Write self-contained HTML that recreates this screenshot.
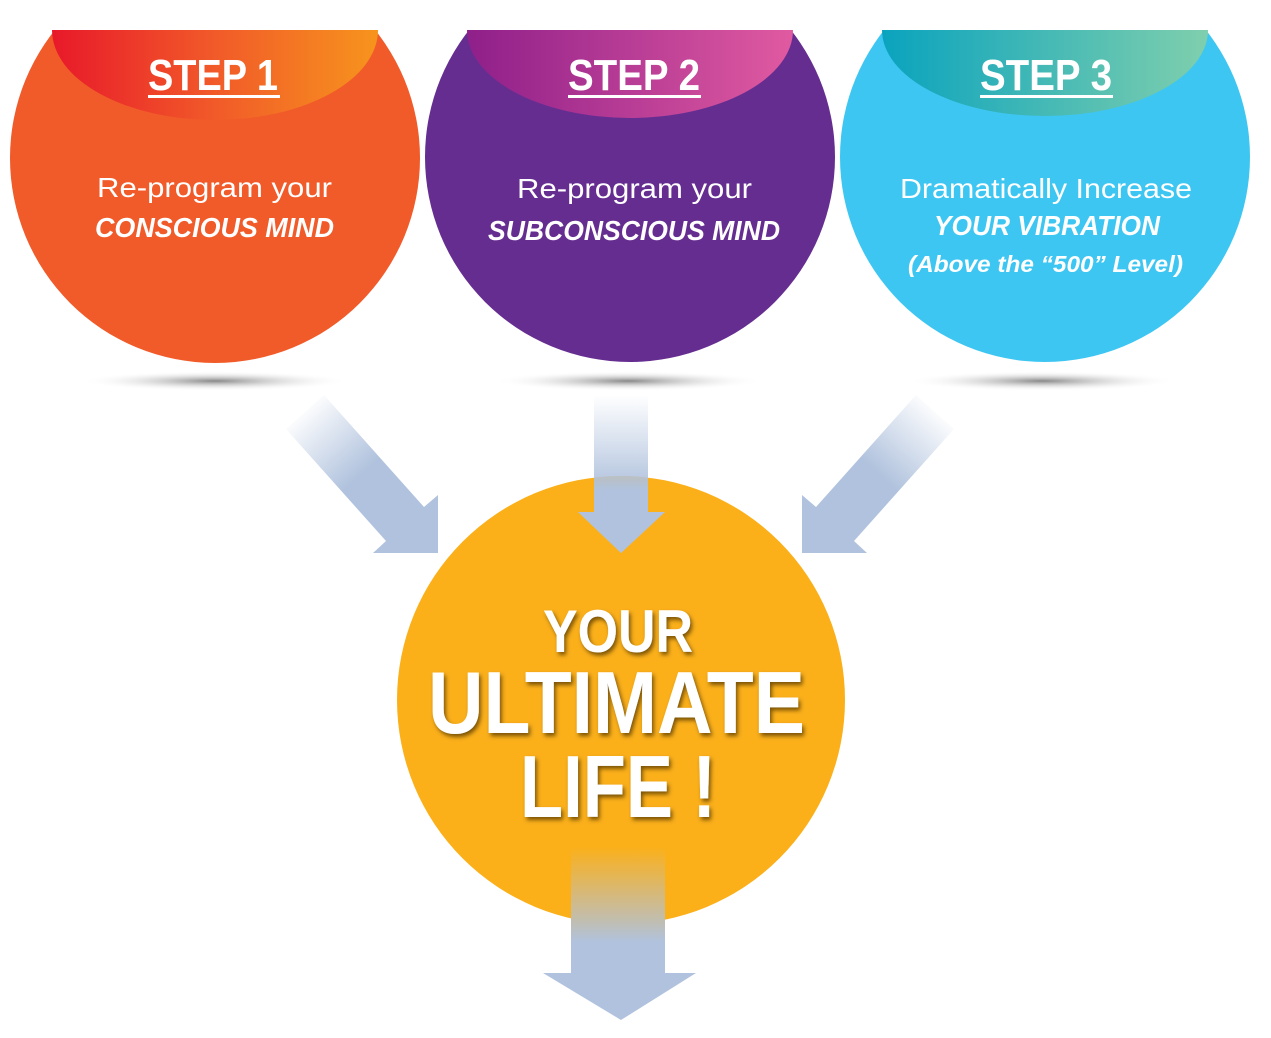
<!DOCTYPE html>
<html><head><meta charset="utf-8"><style>html,body{margin:0;padding:0;background:#fff}svg{display:block}</style></head>
<body>
<svg width="1271" height="1038" viewBox="0 0 1271 1038" xmlns="http://www.w3.org/2000/svg" font-family="Liberation Sans, sans-serif">
<defs>
<clipPath id="top"><rect x="0" y="30" width="1271" height="1000"/></clipPath>
<linearGradient id="r1" x1="0" x2="1"><stop offset="0" stop-color="#e8192a"/><stop offset="0.5" stop-color="#f15a29"/><stop offset="1" stop-color="#f7941d"/></linearGradient>
<linearGradient id="r2" x1="0" x2="1"><stop offset="0" stop-color="#8f1f8a"/><stop offset="1" stop-color="#e05aa0"/></linearGradient>
<linearGradient id="r3" x1="0" x2="1"><stop offset="0" stop-color="#0aa3be"/><stop offset="1" stop-color="#7fcfad"/></linearGradient>
<radialGradient id="sh"><stop offset="0" stop-color="#888"/><stop offset="1" stop-color="#fff" stop-opacity="0"/></radialGradient>
<linearGradient id="av" x1="0" y1="0" x2="0" y2="1"><stop offset="0" stop-color="#b0c2dd" stop-opacity="0"/><stop offset="0.6" stop-color="#b0c2dd"/><stop offset="1" stop-color="#b0c2dd"/></linearGradient>
<linearGradient id="ab" x1="0" y1="0" x2="0" y2="1"><stop offset="0" stop-color="#fbb01a"/><stop offset="0.55" stop-color="#b0c2dd"/><stop offset="1" stop-color="#b0c2dd"/></linearGradient>
<linearGradient id="al" gradientUnits="userSpaceOnUse" x1="300" y1="410" x2="400" y2="520"><stop offset="0" stop-color="#b0c2dd" stop-opacity="0"/><stop offset="0.6" stop-color="#b0c2dd"/><stop offset="1" stop-color="#b0c2dd"/></linearGradient>
<linearGradient id="ar" gradientUnits="userSpaceOnUse" x1="940" y1="410" x2="840" y2="520"><stop offset="0" stop-color="#b0c2dd" stop-opacity="0"/><stop offset="0.6" stop-color="#b0c2dd"/><stop offset="1" stop-color="#b0c2dd"/></linearGradient>
<filter id="ts"><feDropShadow dx="2" dy="3" stdDeviation="2" flood-color="#5a3a00" flood-opacity="0.8"/></filter>
</defs>

<ellipse cx="215" cy="381" rx="135" ry="10" fill="url(#sh)"/>
<ellipse cx="628" cy="381" rx="135" ry="10" fill="url(#sh)"/>
<ellipse cx="1042" cy="381" rx="135" ry="10" fill="url(#sh)"/>

<g clip-path="url(#top)">
<circle cx="215" cy="158" r="205" fill="#f15a29"/>
<circle cx="630" cy="157" r="205" fill="#662d91"/>
<circle cx="1045" cy="157" r="205" fill="#3ec6f2"/>
</g>
<path d="M52 30 L378 30 A163 90 0 0 1 52 30 Z" fill="url(#r1)"/>
<path d="M467 30 L793 30 A163 88 0 0 1 467 30 Z" fill="url(#r2)"/>
<path d="M882 30 L1208 30 A163 86 0 0 1 882 30 Z" fill="url(#r3)"/>

<g fill="#fff" font-weight="bold">
<text x="148" y="90" font-size="44" textLength="130" lengthAdjust="spacingAndGlyphs">STEP 1</text>
<rect x="148" y="95" width="132" height="3"/>
<text x="568" y="90" font-size="44" textLength="132" lengthAdjust="spacingAndGlyphs">STEP 2</text>
<rect x="568" y="95" width="133" height="3"/>
<text x="980" y="90" font-size="44" textLength="132" lengthAdjust="spacingAndGlyphs">STEP 3</text>
<rect x="980" y="95" width="133" height="3"/>
</g>
<g fill="#fff" font-size="28">
<text x="97" y="197" textLength="235" lengthAdjust="spacingAndGlyphs">Re-program your</text>
<text x="517" y="198" textLength="235" lengthAdjust="spacingAndGlyphs">Re-program your</text>
<text x="900" y="198" textLength="292" lengthAdjust="spacingAndGlyphs">Dramatically Increase</text>
</g>
<g fill="#fff" font-size="28" font-weight="bold" font-style="italic">
<text x="95" y="237" textLength="239" lengthAdjust="spacingAndGlyphs">CONSCIOUS MIND</text>
<text x="488" y="240" textLength="292" lengthAdjust="spacingAndGlyphs">SUBCONSCIOUS MIND</text>
<text x="934" y="235" textLength="226" lengthAdjust="spacingAndGlyphs">YOUR VIBRATION</text>
<text x="908" y="272" font-size="23" textLength="275" lengthAdjust="spacingAndGlyphs">(Above the “500” Level)</text>
</g>

<circle cx="621" cy="700" r="224" fill="#fbb01a"/>

<path d="M594 395 H648 V512 H665 L621 553 L578 512 H594 Z" fill="url(#av)"/>
<path d="M438 553 L438 495 L424 507 L324 395 L286 429 L386 541 L373 553 Z" fill="url(#al)"/>
<path d="M802 553 L802 495 L816 507 L916 395 L954 429 L854 541 L867 553 Z" fill="url(#ar)"/>
<path d="M571 847 H665 V973 H696 L621 1020 L543 973 H571 Z" fill="url(#ab)"/>

<g fill="#fff" font-weight="bold" filter="url(#ts)">
<text x="543" y="652" font-size="60" textLength="150" lengthAdjust="spacingAndGlyphs">YOUR</text>
<text x="428" y="733" font-size="88" textLength="377" lengthAdjust="spacingAndGlyphs">ULTIMATE</text>
<text x="520" y="817" font-size="88" textLength="196" lengthAdjust="spacingAndGlyphs">LIFE !</text>
</g>
</svg>
</body></html>
